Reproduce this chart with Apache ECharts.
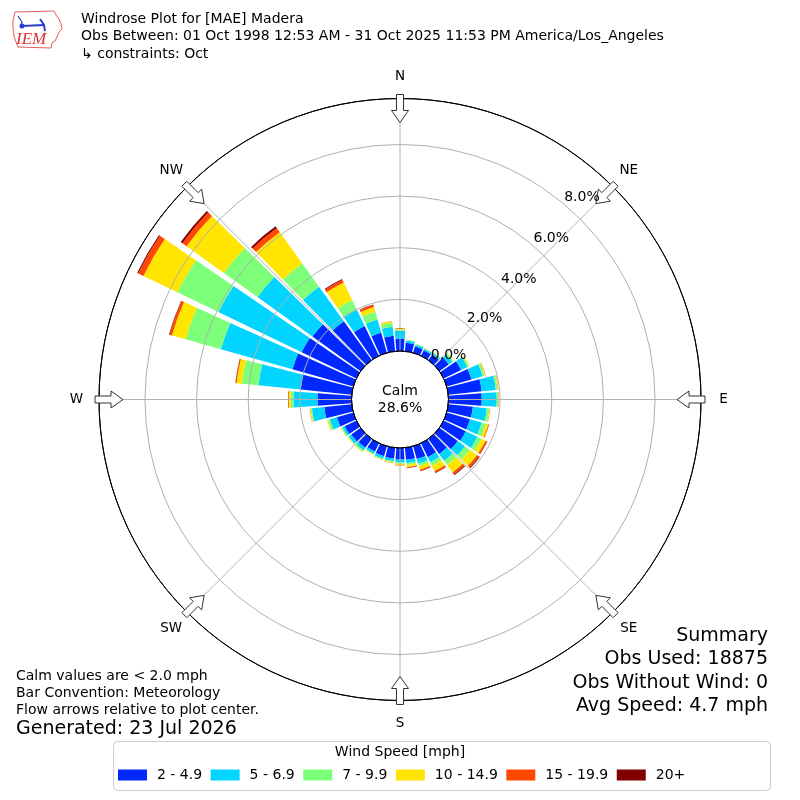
<!DOCTYPE html>
<html><head><meta charset="utf-8">
<script src="https://cdn.jsdelivr.net/npm/echarts@6/dist/echarts.min.js"></script>
<style>html,body{margin:0;padding:0;background:#fff}#c{width:800px;height:800px}</style>
</head><body><div id="c"></div>
<script>
// ---- data ----
const directions = ['0','10','20','30','40','50','60','70','80','90','100','110','120','130','140','150','160','170',
  '180','190','200','210','220','230','240','250','260','270','280','290','300','310','320','330','340','350'];
const speedBins = ['2 - 4.9','5 - 6.9','7 - 9.9','10 - 14.9','15 - 19.9','20+'];
const speed2to5 = [0.48,0.33,0.26,0.24,0.27,0.45,0.75,1.00,1.30,1.29,0.96,0.94,0.95,0.88,0.72,0.60,0.52,0.47,
  0.45,0.42,0.40,0.36,0.42,0.45,0.50,0.66,1.07,1.32,1.99,2.45,2.35,2.30,1.85,1.28,0.81,0.60];
const speed5to7 = [0.30,0.09,0.07,0.06,0.07,0.17,0.27,0.45,0.55,0.58,0.54,0.47,0.50,0.34,0.33,0.22,0.18,0.13,
  0.11,0.10,0.10,0.09,0.13,0.12,0.10,0.29,0.48,0.93,1.64,2.88,3.58,2.62,1.65,0.70,0.53,0.35];
const speed7to10 = [0.05,0.03,0.02,0.02,0.02,0.05,0.06,0.08,0.07,0.06,0.10,0.17,0.17,0.23,0.20,0.15,0.10,0.07,
  0.05,0.04,0.04,0.03,0.05,0.04,0.04,0.07,0.05,0.12,0.65,1.42,1.76,1.60,1.11,0.42,0.31,0.16];
const speed10to15 = [0.04,0.01,0.01,0.01,0.01,0.02,0.03,0.03,0.03,0.02,0.03,0.10,0.18,0.35,0.35,0.23,0.15,0.09,
  0.05,0.03,0.02,0.02,0.03,0.02,0.02,0.04,0.03,0.06,0.20,0.55,1.46,1.78,1.49,0.75,0.19,0.05];
const speed15to20 = [0.01,0,0,0,0,0,0,0.01,0.01,0.01,0.01,0.03,0.07,0.10,0.10,0.07,0.05,0.03,
  0.02,0.01,0.01,0,0,0,0,0,0.01,0.03,0.04,0.10,0.23,0.20,0.20,0.12,0.08,0.01];
const speed20plus = [0,0,0,0,0,0,0,0,0,0,0,0,0.01,0.03,0.03,0.02,0.01,0.01,
  0,0,0,0,0,0,0,0,0,0,0.01,0.02,0.04,0.08,0.08,0.03,0.02,0];
const radialTicks = [0,2,4,6,8];
const compassLabels = ['N','NE','E','SE','S','SW','W','NW'];
const calmPct = '28.6%';
const titleLines = ['Windrose Plot for [MAE] Madera',
  'Obs Between: 01 Oct 1998 12:53 AM - 31 Oct 2025 11:53 PM America/Los_Angeles',
  '\u21b3 constraints: Oct'];
const noteLines = ['Calm values are < 2.0 mph','Bar Convention: Meteorology','Flow arrows relative to plot center.'];
const generated = 'Generated: 23 Jul 2026';
const summaryLines = ['Summary','Obs Used: 18875','Obs Without Wind: 0','Avg Speed: 4.7 mph'];

// ---- style / layout ----
const colors = ['#0028ff','#00d4ff','#7dff7a','#ffe500','#ff4800','#800000'];
const values = [speed2to5, speed5to7, speed7to10, speed10to15, speed15to20, speed20plus];
const CX = 400, CY = 399.5, R0 = 48.5, R1 = 301, RMAX = 9.78;
const FONT = '"DejaVu Sans", sans-serif';

function pt(bearing, r) {
  const a = bearing * Math.PI / 180;
  return [CX + r * Math.sin(a), CY - r * Math.cos(a)];
}
function txt(x, y, text, size, align, valign, extra) {
  return Object.assign({type:'text', x:x, y:y, z:20, silent:true,
    style:{text:text, font: size + 'px ' + FONT, fill:'#000',
      textAlign:align, textVerticalAlign:valign, align:align, verticalAlign:valign}}, extra || {});
}

const graphics = [];
// arrows
compassLabels.forEach((lab, i) => {
  const b = i * 45;
  const a = b * Math.PI / 180;
  const u = [Math.sin(a), -Math.cos(a)];
  const p = [Math.cos(a), Math.sin(a)];
  const rt = 305;
  const local = [[0,-3.5],[16,-3.5],[16,-8.5],[28,0],[16,8.5],[16,3.5],[0,3.5]];
  const pts = local.map(([s, w]) => [CX + (rt - s) * u[0] + w * p[0], CY + (rt - s) * u[1] + w * p[1]]);
  graphics.push({type:'polygon', z:15, silent:true, shape:{points:pts},
    style:{fill:'#fff', stroke:'#333', lineWidth:1}});
  const lp = pt(b, 323.5);
  graphics.push(txt(lp[0], lp[1], lab, 13.5, 'center', 'middle'));
});
// radial labels
radialTicks.forEach((v, i) => {
  const r = R0 + v / RMAX * (R1 - R0) + 18;
  const q = pt(47 - 1.3 * i, r);
  graphics.push(txt(q[0], q[1] + 1, v.toFixed(1) + '%', 14, 'center', 'middle'));
});
// calm
graphics.push(txt(CX, CY - 8, 'Calm', 14, 'center', 'middle'));
graphics.push(txt(CX, CY + 9, calmPct, 14, 'center', 'middle'));
// titles
titleLines.forEach((t, i) => graphics.push(txt(81, 19 + i * 17.5, t, 14, 'left', 'middle')));
// notes
noteLines.forEach((t, i) => graphics.push(txt(16, 676 + i * 17.2, t, 14, 'left', 'middle')));
graphics.push(txt(16, 729, generated, 19, 'left', 'middle'));
summaryLines.forEach((t, i) => graphics.push(txt(768, 636 + i * 23.3, t, 19, 'right', 'middle')));
// legend box
graphics.push({type:'rect', z:1, silent:true, shape:{x:113.5, y:741.5, width:657, height:49, r:4},
  style:{fill:'#fff', stroke:'#cccccc', lineWidth:1}});
graphics.push(txt(400, 752, 'Wind Speed [mph]', 14, 'center', 'middle'));
// logo
graphics.push({type:'polyline', z:20, silent:true,
  shape:{points:[[15,12],[54,11],[56,15],[59,19],[61,24],[62,29],[59,32],[57,37],[55,41],[52,43],[51,48],[18,47],[16,42],[14,36],[13,28],[13,20],[15,12]]},
  style:{stroke:'#e06060', lineWidth:1, fill:null}});
graphics.push({type:'polyline', z:21, silent:true, shape:{points:[[22,26],[44,25]]}, style:{stroke:'#2a3fd0', lineWidth:2}});
graphics.push({type:'polyline', z:21, silent:true, shape:{points:[[40,19],[44,25],[45,31]]}, style:{stroke:'#2a3fd0', lineWidth:2}});
graphics.push({type:'polyline', z:21, silent:true, shape:{points:[[18,16],[22,22],[21,26]]}, style:{stroke:'#2a3fd0', lineWidth:1.2}});
graphics.push({type:'circle', z:21, silent:true, shape:{cx:22, cy:26, r:2.5}, style:{fill:'#2a3fd0'}});
graphics.push(txt(16, 40, 'IEM', 17, 'left', 'middle', {style:{text:'IEM', font:'italic 17px "Liberation Serif", serif', fill:'#e03030', textAlign:'left', textVerticalAlign:'middle', align:'left', verticalAlign:'middle'}}));

const chart = echarts.init(document.getElementById('c'), null, {renderer:'canvas'});
chart.setOption({
  animation:false,
  backgroundColor:'#fff',
  polar:[{center:[CX, CY], radius:[R0, R1]}, {center:[CX, CY], radius:[R0, R1]}],
  angleAxis:[
    {polarIndex:0, type:'category', data:directions, startAngle:95, clockwise:true,
     axisLine:{show:false}, axisTick:{show:false}, axisLabel:{show:false}, splitLine:{show:false}},
    {polarIndex:1, type:'value', min:0, max:360, interval:45, startAngle:90, clockwise:true, z:5,
     axisLine:{show:true, lineStyle:{color:'#000', width:1}}, axisTick:{show:false}, axisLabel:{show:false},
     splitLine:{show:true, lineStyle:{color:'#b0b0b0', width:1}}}
  ],
  radiusAxis:[
    {polarIndex:0, type:'value', min:0, max:RMAX, show:false},
    {polarIndex:1, type:'value', min:0, max:RMAX, interval:2, z:5,
     axisLine:{show:false}, axisTick:{show:false}, axisLabel:{show:false},
     splitLine:{show:true, lineStyle:{color:['#000','#b0b0b0','#b0b0b0','#b0b0b0','#b0b0b0','#000'], width:1}}}
  ],
  legend:{left:113, top:763, itemWidth:29, itemHeight:11, itemGap:8.5, icon:'rect', selectedMode:false,
    textStyle:{fontFamily:'DejaVu Sans', fontSize:14, color:'#000', padding:[0,0,0,5]}, data:speedBins},
  series: speedBins.map((name, i) => ({
    type:'bar', coordinateSystem:'polar', polarIndex:0, stack:'wind', name:name,
    data: values[i], barCategoryGap:'14%', silent:true,
    itemStyle:{color:colors[i]}
  })),
  graphic: graphics
});
</script></body></html>
